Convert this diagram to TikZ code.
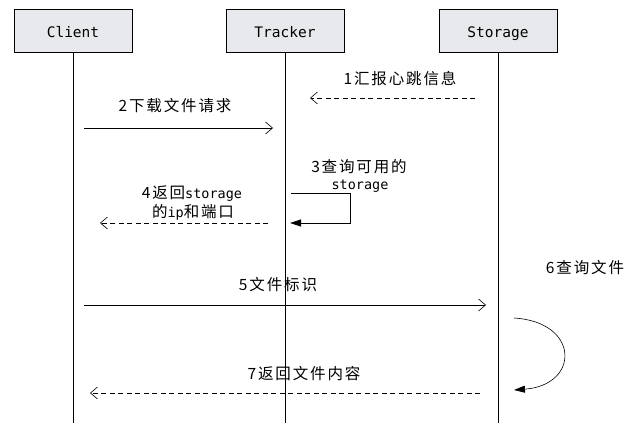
\documentclass[tikz,border=0pt]{standalone}
\usepackage{fontspec}
\usepackage{xcolor}
\usetikzlibrary{arrows.meta}
\newfontfamily\cjk[LetterSpace=12]{Noto Sans CJK SC}
\newfontfamily\monof{DejaVu Sans Mono}
\definecolor{boxgray}{HTML}{E8E9EC}
\tikzset{
  actor/.style={draw, fill=boxgray, minimum width=118pt, minimum height=43pt, inner sep=0pt, text height=13.5pt, text depth=0pt, font=\monof\fontsize{14.5}{16}\selectfont},
  msg/.style={font=\cjk\fontsize{15.5}{19}\selectfont, inner sep=0pt, align=center},
  dashline/.style={dash pattern=on 5pt off 3.5pt},
  openhead/.style={-{Straight Barb[length=7pt,width=12pt,line width=0.6pt]}},
  fullhead/.style={-{Triangle[length=11pt,width=7pt]}}
}
\begin{document}
\begin{tikzpicture}[x=1pt,y=-1pt,line width=0.8pt]
\useasboundingbox (0,0) rectangle (630,423);
% actors and lifelines
\node[actor](client) at (73,30.5){Client};
\node[actor](tracker) at (285,30.5){Tracker};
\node[actor](storage) at (498,30.5){Storage};
\coordinate (bottom) at (0,423);
\draw (client.south) -- (client.south |- bottom);
\draw (tracker.south) -- (tracker.south |- bottom);
\draw (storage.south) -- (storage.south |- bottom);
% 1
\coordinate (m1a) at (475,98);
\coordinate (m1b) at (310,98);
\draw[dashline,openhead] (m1a) -- (m1b);
\node[msg](l1) at (400,79){1汇报心跳信息};
% 2
\coordinate (m2a) at (84,128);
\coordinate (m2b) at (273,128);
\draw[openhead] (m2a) -- (m2b);
\node[msg](l2) at (175,106){2下载文件请求};
% 3
\coordinate (m3a) at (291,193);
\coordinate (m3b) at (350,193);
\coordinate (m3c) at (350,223);
\coordinate (m3d) at (290,223);
\draw[fullhead] (m3a) -- (m3b) -- (m3c) -- (m3d);
\node[msg](l3) at (359,167){3查询可用的};
\node[msg,font=\monof\fontsize{13.5}{15}\selectfont](l3b) at (360,186){storage};
% 4
\coordinate (m4a) at (268,223);
\coordinate (m4b) at (100,223);
\draw[dashline,openhead] (m4a) -- (m4b);
\node[msg](l4) at (192,194){4返回{\monof\fontsize{13.5}{15}\selectfont storage}};
\node[msg](l4b) at (193,212){的{\monof\fontsize{13.5}{15}\selectfont ip}和端口};
% 5
\coordinate (m5a) at (84,305);
\coordinate (m5b) at (486,305);
\draw[openhead] (m5a) -- (m5b);
\node[msg](l5) at (278,285){5文件标识};
% 6
\coordinate (m6a) at (514,318);
\coordinate (m6b) at (514,390);
\draw[fullhead,line width=0.6pt] (m6a) .. controls (580,322) and (580,385) .. (m6b);
\node[msg](l6) at (585,268){6查询文件};
% 7
\coordinate (m7a) at (480,393);
\coordinate (m7b) at (90,393);
\draw[dashline,openhead] (m7a) -- (m7b);
\node[msg](l7) at (304,374){7返回文件内容};
\end{tikzpicture}
\end{document}
